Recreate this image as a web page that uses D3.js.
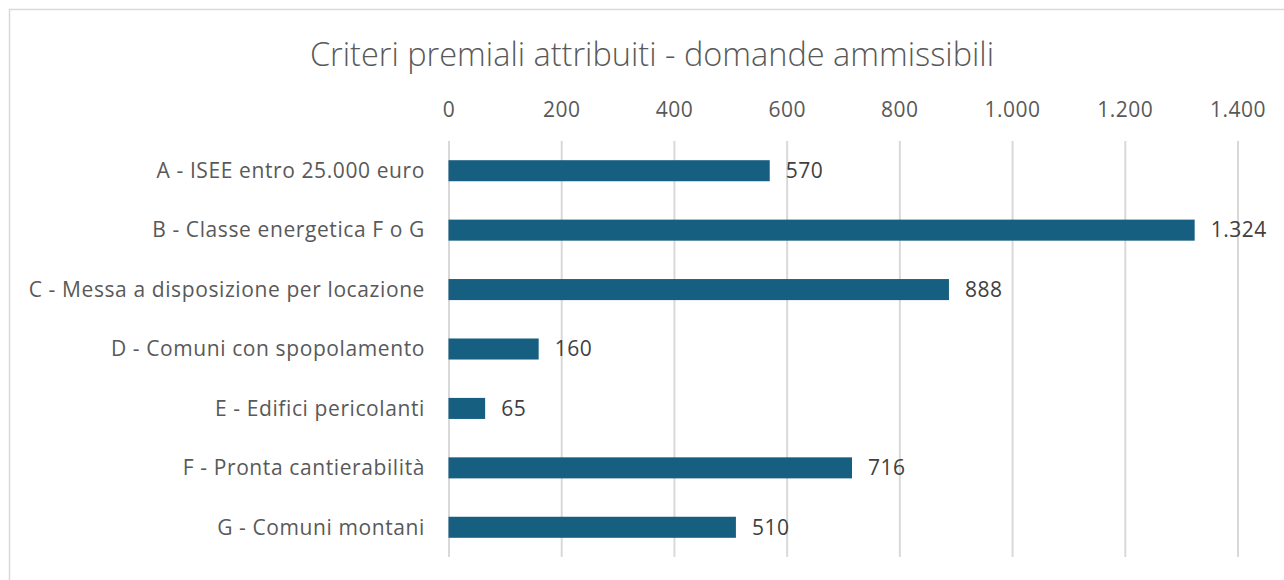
<!DOCTYPE html>
<html><head><meta charset="utf-8">
<script src="https://cdn.jsdelivr.net/npm/d3@7"></script>
<style>body{margin:0;background:#fff}svg{display:block}</style>
</head><body>
<svg id="c" width="1284" height="580"></svg>
<script>
const categories = ["A - ISEE entro 25.000 euro","B - Classe energetica F o G","C - Messa a disposizione per locazione","D - Comuni con spopolamento","E - Edifici pericolanti","F - Pronta cantierabilità","G - Comuni montani"];
const values = [570,1324,888,160,65,716,510];
const ticks = [0,200,400,600,800,1000,1200,1400];
const title = "Criteri premiali attribuiti - domande ammissibili";

const svg = d3.select("#c");
const font = "'Open Sans', sans-serif";
svg.append("rect").attr("x",9.5).attr("y",9.5).attr("width",1300).attr("height",600)
  .attr("fill","#fff").attr("stroke","#d9d9d9").attr("stroke-width",1.5);

const x = d3.scaleLinear().domain([0,1400]).range([448.5,1237.5]);
const y = d3.scaleBand().domain(categories).range([141,557]).paddingInner(0.646).paddingOuter(0.323);
const fmt = d3.formatLocale({decimal:",",thousands:".",grouping:[3],currency:["€",""]}).format(",d");

svg.append("text").attr("x",652).attr("y",66).attr("text-anchor","middle")
  .attr("font-family",font).attr("font-weight",300).attr("font-size",32.5).attr("fill","#595959").text(title);

const ax = svg.append("g").attr("transform","translate(0,141)")
  .call(d3.axisTop(x).tickValues(ticks).tickFormat(fmt).tickSize(-416).tickPadding(24));
ax.select(".domain").remove();
ax.selectAll(".tick line").attr("stroke","#d9d9d9").attr("stroke-width",2);
ax.selectAll(".tick text").attr("font-family",font).attr("font-size",21).attr("letter-spacing",0.5).attr("fill","#595959");

svg.append("g").selectAll("text").data(categories).join("text")
  .attr("x",425).attr("y",d=>y(d)+y.bandwidth()/2).attr("dy","0.35em").attr("text-anchor","end")
  .attr("font-family",font).attr("font-size",21).attr("letter-spacing",0.6).attr("fill","#595959").text(d=>d);

svg.append("g").selectAll("rect").data(values).join("rect")
  .attr("x",x(0)).attr("y",(d,i)=>y(categories[i])).attr("height",y.bandwidth())
  .attr("width",d=>x(d)-x(0)).attr("fill","#175f80");

svg.append("g").selectAll("text").data(values).join("text")
  .attr("x",d=>x(d)+16).attr("y",(d,i)=>y(categories[i])+y.bandwidth()/2).attr("dy","0.35em")
  .attr("font-family",font).attr("font-size",21).attr("letter-spacing",0.5).attr("fill","#404040").text(d=>fmt(d));
</script>
</body></html>
